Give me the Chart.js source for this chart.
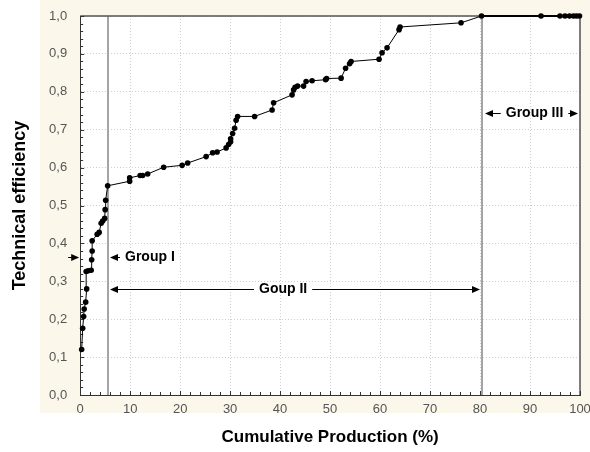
<!DOCTYPE html>
<html>
<head>
<meta charset="utf-8">
<script src="https://cdn.jsdelivr.net/npm/chart.js@4.4.0/dist/chart.umd.min.js"></script>
<style>
  html, body { margin: 0; padding: 0; background: #fff; }
</style>
</head>
<body>
<canvas id="graphC" width="590" height="452"></canvas>
<script>
// cumulative production (%) and technical efficiency
var cumProd = [0.3, 0.5, 0.7, 0.8, 1.1, 1.3, 1.2, 1.6, 2.2, 2.3, 2.4, 2.4, 3.4, 3.8, 4.2, 4.5, 4.9, 5.0, 5.1, 5.5,
               9.9, 9.9, 12.0, 12.5, 13.5, 16.7, 20.4, 21.5, 25.2, 26.5, 27.4, 29.2, 29.7, 30.1, 30.1, 30.5, 30.9, 31.2, 31.5,
               34.9, 38.4, 38.7, 42.4, 42.7, 43.0, 43.5, 44.7, 45.2, 46.4, 49.1, 49.3, 52.2, 53.1, 53.9, 54.2,
               59.8, 60.4, 61.4, 63.8, 64.0, 76.2, 80.3, 92.2, 96.0, 97.0, 97.9, 98.7, 99.3, 99.9];
var techEff = [0.120, 0.176, 0.207, 0.227, 0.245, 0.280, 0.326, 0.328, 0.329, 0.357, 0.380, 0.407, 0.424, 0.429, 0.453, 0.459, 0.466, 0.489, 0.514, 0.552,
               0.564, 0.573, 0.579, 0.579, 0.583, 0.601, 0.606, 0.612, 0.629, 0.639, 0.641, 0.652, 0.661, 0.668, 0.676, 0.690, 0.704, 0.725, 0.735,
               0.735, 0.752, 0.771, 0.792, 0.805, 0.812, 0.815, 0.815, 0.827, 0.829, 0.832, 0.835, 0.836, 0.862, 0.874, 0.880,
               0.886, 0.903, 0.916, 0.964, 0.971, 0.982, 1.0, 1.0, 1.0, 1.0, 1.0, 1.0, 1.0, 1.0];
var xTicks = [0, 10, 20, 30, 40, 50, 60, 70, 80, 90, 100];
var yTicks = [0, 0.1, 0.2, 0.3, 0.4, 0.5, 0.6, 0.7, 0.8, 0.9, 1.0];

var groupNames = ["Group I", "Goup II", "Group III"];
var groupEdges = [5.6, 80.3, 100];
var groupArrowY = [0.365, 0.28, 0.745];
var groupLabelX = [null, 40.6, 90.9];

var points = cumProd.map(function (x, i) { return { x: x, y: techEff[i] }; });
var fontFam = "'Liberation Sans', Arial, sans-serif";

function arrowHead(ctx, x, y, dir) {
    ctx.beginPath();
    ctx.moveTo(x, y);
    ctx.lineTo(x - dir * 8, y - 3.5);
    ctx.lineTo(x - dir * 8, y + 3.5);
    ctx.closePath();
    ctx.fill();
}

var decor = {
    id: 'decor',
    beforeDraw: function (chart) {
        var c = chart.ctx, a = chart.chartArea;
        c.save();
        c.fillStyle = '#fbf7ea';
        c.fillRect(40, 0, 550, 413);
        c.fillStyle = '#ffffff';
        c.fillRect(a.left, a.top, a.right - a.left, a.bottom - a.top);
        c.restore();
    },
    beforeDatasetsDraw: function (chart) {
        var c = chart.ctx, a = chart.chartArea, xs = chart.scales.x, ys = chart.scales.y;
        c.save();
        // group boundaries
        c.strokeStyle = '#a4a4a4';
        c.lineWidth = 2;
        [groupEdges[0], groupEdges[1]].forEach(function (g) {
            var px = Math.round(xs.getPixelForValue(g));
            c.beginPath(); c.moveTo(px, a.top); c.lineTo(px, a.bottom); c.stroke();
        });
        // frame top/right
        c.strokeStyle = '#555';
        c.lineWidth = 1.5;
        c.beginPath();
        c.moveTo(a.left, a.top); c.lineTo(a.right, a.top); c.lineTo(a.right, a.bottom);
        c.stroke();
        // minor ticks, inward
        c.strokeStyle = '#333';
        c.lineWidth = 1;
        c.beginPath();
        for (var i = 0; i <= 50; i++) {
            var px = Math.round(xs.getPixelForValue(i * 2)) + 0.5;
            var len = i % 5 === 0 ? 4 : 3;
            c.moveTo(px, a.bottom); c.lineTo(px, a.bottom - len);
            var py = Math.round(ys.getPixelForValue(i * 0.02)) + 0.5;
            c.moveTo(a.left, py); c.lineTo(a.left + len, py);
        }
        c.stroke();
        c.restore();
    },
    afterDraw: function (chart) {
        var c = chart.ctx, a = chart.chartArea, xs = chart.scales.x, ys = chart.scales.y;
        var e0 = Math.round(xs.getPixelForValue(groupEdges[0]));
        var e1 = Math.round(xs.getPixelForValue(groupEdges[1]));
        var e2 = Math.round(xs.getPixelForValue(groupEdges[2]));
        c.save();
        c.strokeStyle = '#000';
        c.fillStyle = '#000';
        c.lineWidth = 1;
        c.font = 'bold 14px ' + fontFam;
        c.textBaseline = 'middle';

        // Group I
        var y0 = Math.round(ys.getPixelForValue(groupArrowY[0])) + 0.5;
        c.beginPath(); c.moveTo(a.left - 12, y0); c.lineTo(a.left - 3, y0); c.stroke();
        arrowHead(c, a.left - 1, y0, 1);
        c.beginPath(); c.moveTo(e0 + 4, y0); c.lineTo(e0 + 12, y0); c.stroke();
        arrowHead(c, e0 + 2, y0, -1);
        c.textAlign = 'left';
        c.fillText(groupNames[0], e0 + 17, y0);

        // Group II
        var y1 = Math.round(ys.getPixelForValue(groupArrowY[1])) + 0.5;
        var t1 = xs.getPixelForValue(groupLabelX[1]);
        var w1 = c.measureText(groupNames[1]).width;
        c.beginPath();
        c.moveTo(e0 + 4, y1); c.lineTo(t1 - w1 / 2 - 5, y1);
        c.moveTo(t1 + w1 / 2 + 5, y1); c.lineTo(e1 - 4, y1);
        c.stroke();
        arrowHead(c, e0 + 2, y1, -1);
        arrowHead(c, e1 - 2, y1, 1);
        c.textAlign = 'center';
        c.fillText(groupNames[1], t1, y1);

        // Group III
        var y2 = Math.round(ys.getPixelForValue(groupArrowY[2])) + 0.5;
        var t2 = xs.getPixelForValue(groupLabelX[2]);
        var w2 = c.measureText(groupNames[2]).width;
        c.beginPath();
        c.moveTo(e1 + 4, y2); c.lineTo(t2 - w2 / 2 - 5, y2);
        c.moveTo(t2 + w2 / 2 + 5, y2); c.lineTo(e2 - 4, y2);
        c.stroke();
        arrowHead(c, e1 + 3, y2, -1);
        arrowHead(c, e2 - 2, y2, 1);
        c.fillText(groupNames[2], t2, y2);
        c.restore();
    }
};

var ctx = document.getElementById("graphC").getContext('2d');
var myChart = new Chart(ctx, {
    type: 'scatter',
    data: {
        datasets: [{
            label: 'Technical efficiency',
            data: points,
            showLine: true,
            borderColor: '#000',
            borderWidth: 1,
            pointRadius: 2.8,
            pointBackgroundColor: '#000',
            pointBorderColor: '#000',
            pointBorderWidth: 0,
            clip: false,
            segment: {
                borderWidth: function (s) { return s.p0.parsed.x >= 80 ? 2 : 1; }
            }
        }]
    },
    options: {
        responsive: false,
        animation: false,
        layout: { padding: { top: 16, right: 10, bottom: 0, left: 0 } },
        plugins: { legend: { display: false }, tooltip: { enabled: false } },
        scales: {
            x: {
                type: 'linear',
                min: 0, max: 100,
                afterBuildTicks: function (s) { s.ticks = xTicks.map(function (v) { return { value: v }; }); },
                afterFit: function (s) { s.paddingRight = 0; },
                ticks: { color: '#555', font: { family: fontFam, size: 13 }, padding: 7, maxRotation: 0 },
                grid: { color: '#cfcfcf', drawTicks: false },
                border: { color: '#333', width: 1, dash: [1, 2] },
                title: {
                    display: true, text: 'Cumulative Production (%)', color: '#000',
                    font: { family: fontFam, size: 17, weight: 'bold' },
                    padding: { top: 3, bottom: 4 }
                }
            },
            y: {
                min: 0, max: 1,
                afterBuildTicks: function (s) { s.ticks = yTicks.map(function (v) { return { value: v }; }); },
                afterFit: function (s) { s.paddingTop = 0; },
                ticks: {
                    color: '#555', font: { family: fontFam, size: 13 }, padding: 13,
                    callback: function (v) { return v.toFixed(1).replace('.', ','); }
                },
                grid: { color: '#cfcfcf', drawTicks: false },
                border: { color: '#333', width: 1, dash: [1, 2] },
                title: {
                    display: true, text: 'Technical efficiency', color: '#000',
                    font: { family: fontFam, size: 18, weight: 'bold' },
                    padding: { top: 9, bottom: 5.5 }
                }
            }
        }
    },
    plugins: [decor]
});
</script>
</body>
</html>
